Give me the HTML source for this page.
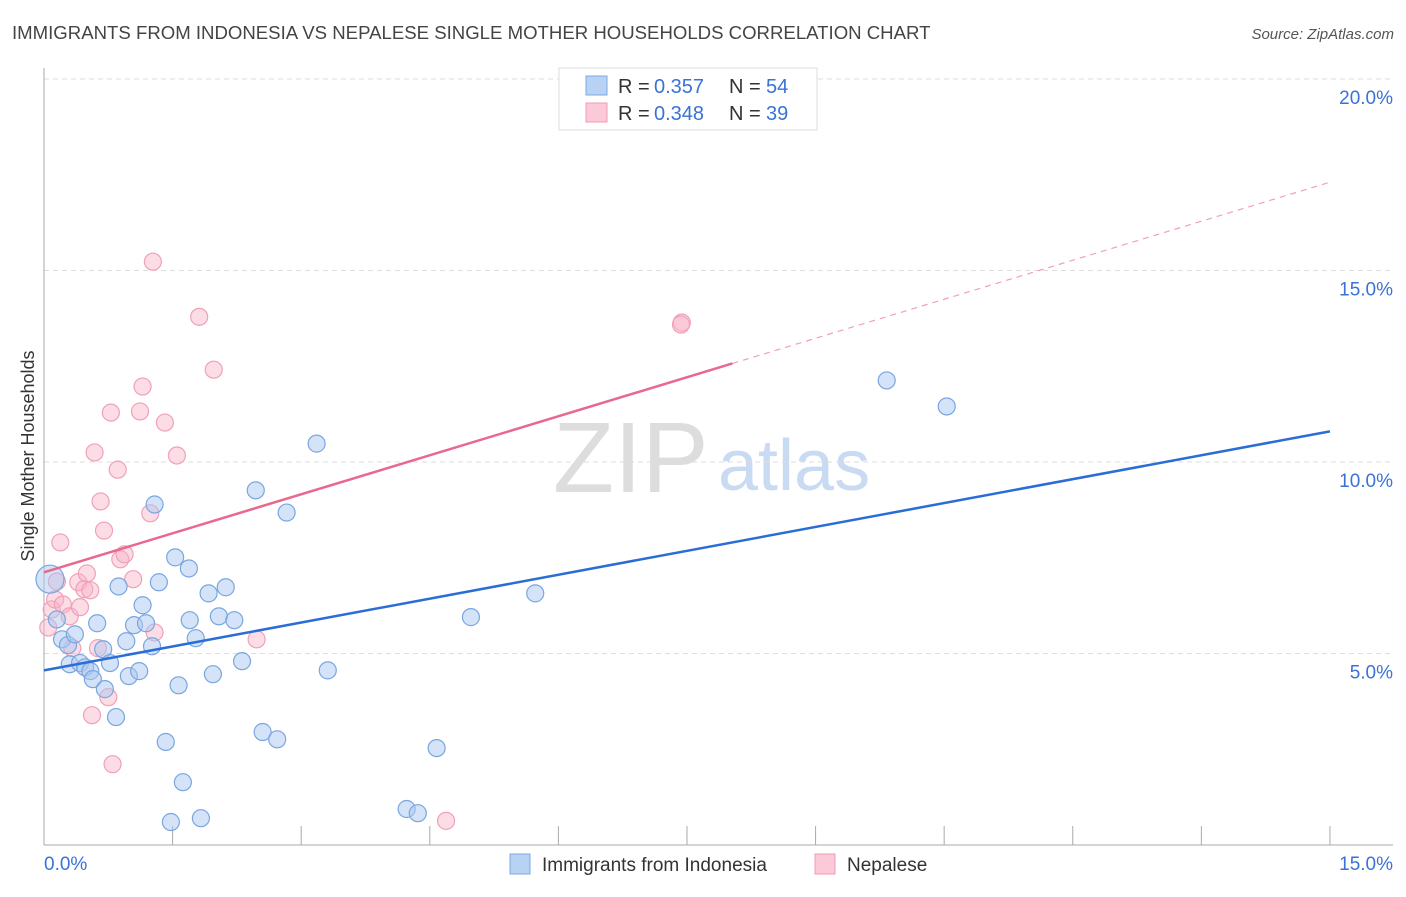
<!DOCTYPE html>
<html><head><meta charset="utf-8"><style>
body{margin:0;background:#fff;font-family:"Liberation Sans",sans-serif}
svg text{font-family:"Liberation Sans",sans-serif}
</style></head><body>
<svg id="chart" width="1406" height="892">
<text x="12" y="39" font-size="18.6" fill="#444">IMMIGRANTS FROM INDONESIA VS NEPALESE SINGLE MOTHER HOUSEHOLDS CORRELATION CHART</text>
<text x="1394" y="39" font-size="15" fill="#555" font-style="italic" text-anchor="end">Source: ZipAtlas.com</text>
<text x="553" y="492" font-size="100" fill="#ddd" font-family="Liberation Serif">ZIP</text>
<text x="718" y="490" font-size="72" fill="#c9daf3">atlas</text>
<text transform="translate(34,456) rotate(-90)" font-size="18" fill="#333" text-anchor="middle">Single Mother Households</text>
<g id="grid"></g><g id="marks"></g>
<g>
<rect x="559" y="68" width="258" height="62" fill="#fff" stroke="#ddd"/>
<rect x="586" y="76" width="21" height="19" fill="#b8d2f4" stroke="#7ea8e3"/>
<rect x="586" y="103" width="21" height="19" fill="#fbc9d8" stroke="#f09ab5"/>
<text x="618" y="93" font-size="20" fill="#333">R =</text>
<text x="654" y="93" font-size="20" fill="#3a72d6">0.357</text>
<text x="729" y="93" font-size="20" fill="#333">N =</text>
<text x="766" y="93" font-size="20" fill="#3a72d6">54</text>
<text x="618" y="120" font-size="20" fill="#333">R =</text>
<text x="654" y="120" font-size="20" fill="#3a72d6">0.348</text>
<text x="729" y="120" font-size="20" fill="#333">N =</text>
<text x="766" y="120" font-size="20" fill="#3a72d6">39</text>
</g>
<g>
<rect x="510" y="854" width="20" height="20" fill="#b8d2f4" stroke="#7ea8e3"/>
<text x="542" y="871" font-size="19" fill="#333">Immigrants from Indonesia</text>
<rect x="815" y="854" width="20" height="20" fill="#fbc9d8" stroke="#f09ab5"/>
<text x="847" y="871" font-size="19" fill="#333">Nepalese</text>
</g>
</svg>
<script>
const blueX=[0.07,0.15,0.21,0.28,0.36,0.30,0.42,0.48,0.54,0.57,0.62,0.69,0.71,0.77,0.84,0.87,0.96,0.99,1.05,1.11,1.15,1.19,1.26,1.29,1.34,1.42,1.48,1.53,1.57,1.62,1.69,1.70,1.77,1.83,1.92,1.97,2.04,2.12,2.22,2.31,2.47,2.55,2.72,2.83,3.18,3.31,4.23,4.36,4.58,4.98,5.73,9.83,10.53];
const blueY=[6.94,5.89,5.37,5.22,5.50,4.72,4.75,4.64,4.54,4.33,5.79,5.11,4.07,4.75,3.34,6.75,5.32,4.41,5.74,4.54,6.26,5.79,5.19,8.89,6.86,2.69,0.60,7.51,4.17,1.64,7.22,5.87,5.40,0.70,6.57,4.46,5.97,6.73,5.87,4.80,9.26,2.95,2.76,8.68,10.48,4.56,0.94,0.83,2.53,5.95,6.57,12.13,11.45];
const pinkX=[0.05,0.09,0.13,0.19,0.15,0.22,0.30,0.33,0.40,0.42,0.47,0.50,0.54,0.56,0.59,0.63,0.66,0.70,0.75,0.78,0.80,0.86,0.89,0.94,1.04,1.12,1.15,1.24,1.27,1.29,1.41,1.55,1.81,1.98,2.48,4.69,7.44,7.43];
const pinkY=[5.68,6.15,6.41,7.90,6.88,6.28,5.97,5.14,6.86,6.21,6.68,7.09,6.65,3.39,10.25,5.14,8.97,8.21,3.86,11.29,2.11,9.80,7.46,7.59,6.94,11.32,11.97,8.66,15.23,5.55,11.03,10.17,13.79,12.41,5.37,0.63,13.64,13.59];
const blueTrend=[4.56,10.8];
const pinkTrend=[7.12,0.679];
const yTicks=[5,10,15,20];
const yLabels=["5.0%","10.0%","15.0%","20.0%"];
const xTicks=[0,1.5,3,4.5,6,7.5,9,10.5,12,13.5,15];
const NS="http://www.w3.org/2000/svg";
const sx=v=>44+v*85.73, sy=v=>845-v*38.3;
function mk(tag,attrs,parent){const e=document.createElementNS(NS,tag);for(const k in attrs)e.setAttribute(k,attrs[k]);parent.appendChild(e);return e;}
const grid=document.getElementById('grid'), marks=document.getElementById('marks');
yTicks.forEach((t,i)=>{
 const l=mk('line',{x1:44,x2:1393,y1:sy(t),y2:sy(t),stroke:'#ddd','stroke-dasharray':'5,4'},grid);
 
 
 const tx=mk('text',{x:1393,y:sy(t)+25,'font-size':19,fill:'#3a72d6','text-anchor':'end'},grid);
 tx.textContent=yLabels[i];
 
 
});
const ya=mk('line',{x1:44,x2:44,y1:68,y2:845,stroke:'#aaa'},grid);


const xa=mk('line',{x1:44,x2:1393,y1:845,y2:845,stroke:'#aaa'},grid);


xTicks.forEach(t=>{const l=mk('line',{x1:sx(t),x2:sx(t),y1:826,y2:845,stroke:'#aaa'},grid);
 
 });
const x0=mk('text',{x:44,y:870,'font-size':19,fill:'#3a72d6'},grid);x0.textContent='0.0%';


const x1=mk('text',{x:1393,y:870,'font-size':19,fill:'#3a72d6','text-anchor':'end'},grid);x1.textContent='15.0%';


function dots(X,Y,fill,stroke,name){X.forEach((x,i)=>{const c=mk('circle',{cx:sx(x),cy:sy(Y[i]),r:i===0&&name==='blue-point'?14:8.5,fill,stroke,'stroke-width':1.2},marks);
 
 });}
dots(pinkX,pinkY,'rgba(248,180,200,0.45)','#f0a0b8','pink-point');
dots(blueX,blueY,'rgba(170,200,240,0.5)','#7aa6e0','blue-point');
const bl=mk('line',{x1:sx(0),y1:sy(blueTrend[0]),x2:sx(15),y2:sy(blueTrend[1]),stroke:'#2a6dd6','stroke-width':2.5},marks);


const pe=8.03;
const pl=mk('line',{x1:sx(0),y1:sy(pinkTrend[0]),x2:sx(pe),y2:sy(pinkTrend[0]+pinkTrend[1]*pe),stroke:'#e8688e','stroke-width':2.5},marks);


const pd=mk('line',{x1:sx(pe),y1:sy(pinkTrend[0]+pinkTrend[1]*pe),x2:sx(15),y2:sy(pinkTrend[0]+pinkTrend[1]*15),stroke:'#f0a0b8','stroke-width':1.2,'stroke-dasharray':'6,5'},marks);


</script>
</body></html>
